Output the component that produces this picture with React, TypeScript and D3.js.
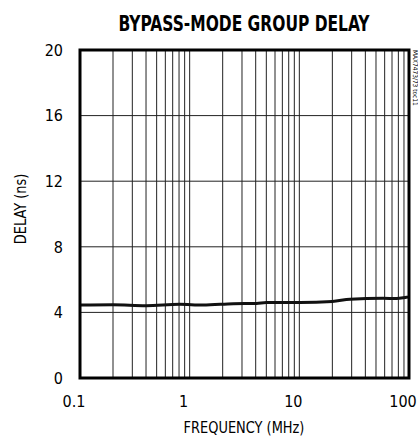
import { useEffect, useRef } from 'react'
import * as d3 from 'd3'

const FREQ = [0.1, 0.2, 0.4, 0.81, 1.32, 2.5, 4.07, 5.0, 10.1, 20, 29, 58, 77, 95, 100]
const DELAY = [4.45, 4.47, 4.41, 4.49, 4.45, 4.53, 4.55, 4.61, 4.61, 4.67, 4.8, 4.86, 4.84, 4.92, 4.94]
const X_TICKS = [0.1, 1, 10, 100]
const Y_TICKS = [0, 4, 8, 12, 16, 20]

const FONT = "'Liberation Sans Narrow', 'DejaVu Sans Condensed', 'Arial Narrow', sans-serif"

export default function App() {
  const ref = useRef<SVGSVGElement>(null)

  useEffect(() => {
    const svg = d3.select(ref.current)
    svg.selectAll('*').remove()

    const width = 418
    const height = 436
    const margin = { top: 50, right: 9, bottom: 58, left: 80 }
    const innerW = width - margin.left - margin.right
    const innerH = height - margin.top - margin.bottom

    const g = svg.append('g').attr('transform', `translate(${margin.left},${margin.top})`)

    const x = d3.scaleLog().domain([0.1, 100]).range([0, innerW])
    const y = d3.scaleLinear().domain([0, 20]).range([innerH, 0])

    // minor log grid
    const vgrid: number[] = []
    for (let dec = 0.1; dec < 100; dec *= 10) {
      for (let k = 2; k <= 10; k++) vgrid.push(+(dec * k).toPrecision(3))
    }
    g.selectAll('.vgrid')
      .data(vgrid)
      .join('line')
      .attr('x1', d => x(d))
      .attr('x2', d => x(d))
      .attr('y1', 0)
      .attr('y2', innerH)
      .attr('stroke', '#222')
      .attr('stroke-width', 1)

    g.selectAll('.hgrid')
      .data(Y_TICKS.slice(1, -1))
      .join('line')
      .attr('x1', 0)
      .attr('x2', innerW)
      .attr('y1', d => y(d))
      .attr('y2', d => y(d))
      .attr('stroke', '#222')
      .attr('stroke-width', 1)

    const line = d3.line<number>()
      .x((_, i) => x(FREQ[i]))
      .y(d => y(d))
      .curve(d3.curveMonotoneX)

    g.append('path')
      .datum(DELAY)
      .attr('d', line)
      .attr('fill', 'none')
      .attr('stroke', '#111')
      .attr('stroke-width', 3)

    g.append('rect')
      .attr('width', innerW)
      .attr('height', innerH)
      .attr('fill', 'none')
      .attr('stroke', '#000')
      .attr('stroke-width', 3)

    g.selectAll('.ylab')
      .data(Y_TICKS)
      .join('text')
      .attr('x', -17)
      .attr('y', d => y(d))
      .attr('dy', '0.36em')
      .attr('text-anchor', 'end')
      .attr('font-family', FONT)
      .attr('font-size', 16)
      .text(d => d)

    g.selectAll('.xlab')
      .data(X_TICKS)
      .join('text')
      .attr('x', d => x(d) - 6)
      .attr('y', innerH + 23)
      .attr('dy', '0.36em')
      .attr('text-anchor', 'middle')
      .attr('font-family', FONT)
      .attr('font-size', 16)
      .text(d => d)

    // condensed headings: squeeze horizontally
    svg.append('text')
      .attr('transform', 'translate(244,30.5) scale(0.82,1)')
      .attr('text-anchor', 'middle')
      .attr('font-family', FONT)
      .attr('font-weight', 'bold')
      .attr('font-size', 21)
      .text('BYPASS-MODE GROUP DELAY')

    svg.append('text')
      .attr('transform', 'translate(244,427) scale(0.9,1)')
      .attr('dy', '0.36em')
      .attr('text-anchor', 'middle')
      .attr('font-family', FONT)
      .attr('font-size', 16)
      .text('FREQUENCY (MHz)')

    svg.append('text')
      .attr('transform', 'translate(20,209) rotate(-90) scale(0.9,1)')
      .attr('dy', '0.36em')
      .attr('text-anchor', 'middle')
      .attr('font-family', FONT)
      .attr('font-size', 16)
      .text('DELAY (ns)')

    svg.append('text')
      .attr('transform', 'translate(415,50) rotate(90)')
      .attr('dy', '0.36em')
      .attr('text-anchor', 'start')
      .attr('font-family', FONT)
      .attr('font-size', 6.5)
      .text('MAX7473/73 toc11')
  }, [])

  return (
    <svg ref={ref} width={418} height={436} style={{ position: 'absolute', left: 0, top: 0, background: '#fff' }} />
  )
}
